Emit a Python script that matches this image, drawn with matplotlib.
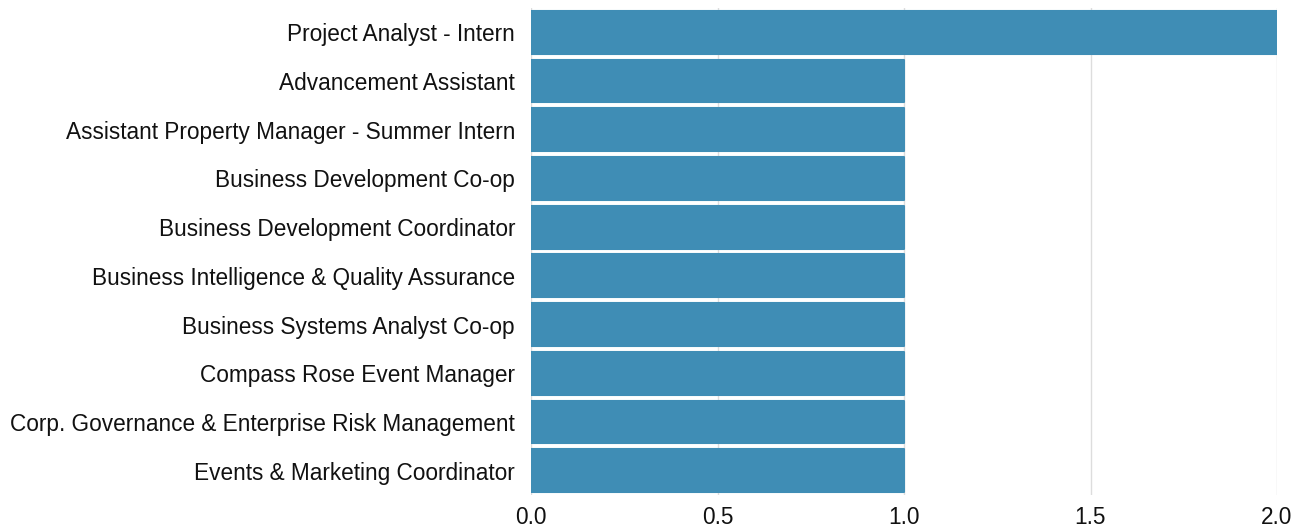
import matplotlib.pyplot as plt

plt.rcParams['font.family'] = ['Liberation Sans', 'DejaVu Sans']

roles = ['Project Analyst - Intern',
         'Advancement Assistant',
         'Assistant Property Manager - Summer Intern',
         'Business Development Co-op',
         'Business Development Coordinator',
         'Business Intelligence & Quality Assurance',
         'Business Systems Analyst Co-op',
         'Compass Rose Event Manager',
         'Corp. Governance & Enterprise Risk Management',
         'Events & Marketing Coordinator']
counts = [2, 1, 1, 1, 1, 1, 1, 1, 1, 1]
xticks = [0.0, 0.5, 1.0, 1.5, 2.0]

bar_color = '#3f8db5'

fig = plt.figure(figsize=(13.02, 5.29), dpi=100)
ax = fig.add_axes([531 / 1302, 1 - 495 / 529, (1277 - 531) / 1302, (495 - 8) / 529])

ypos = list(range(len(roles)))
bars = ax.barh(ypos, counts, height=0.88, color=bar_color, edgecolor=bar_color,
               linewidth=1.5, zorder=2)
for b in bars:
    b.set_joinstyle('round')

ax.set_xlim(0, 2)
ax.set_ylim(len(roles) - 0.5, -0.5)
ax.set_xticks(xticks)
ax.set_xticklabels(['%.1f' % v for v in xticks])
ax.set_yticks(ypos)
ax.set_yticklabels(roles)
ax.tick_params(axis='y', length=0, pad=11.5, labelsize=16.3, colors='#111111')
ax.tick_params(axis='x', length=0, pad=8, labelsize=16.3, colors='#111111')
ax.grid(axis='x', color='#dddddd', linewidth=1, zorder=0)
ax.set_axisbelow(True)
for s in ax.spines.values():
    s.set_visible(False)

fig.savefig('out.png', dpi=100)
